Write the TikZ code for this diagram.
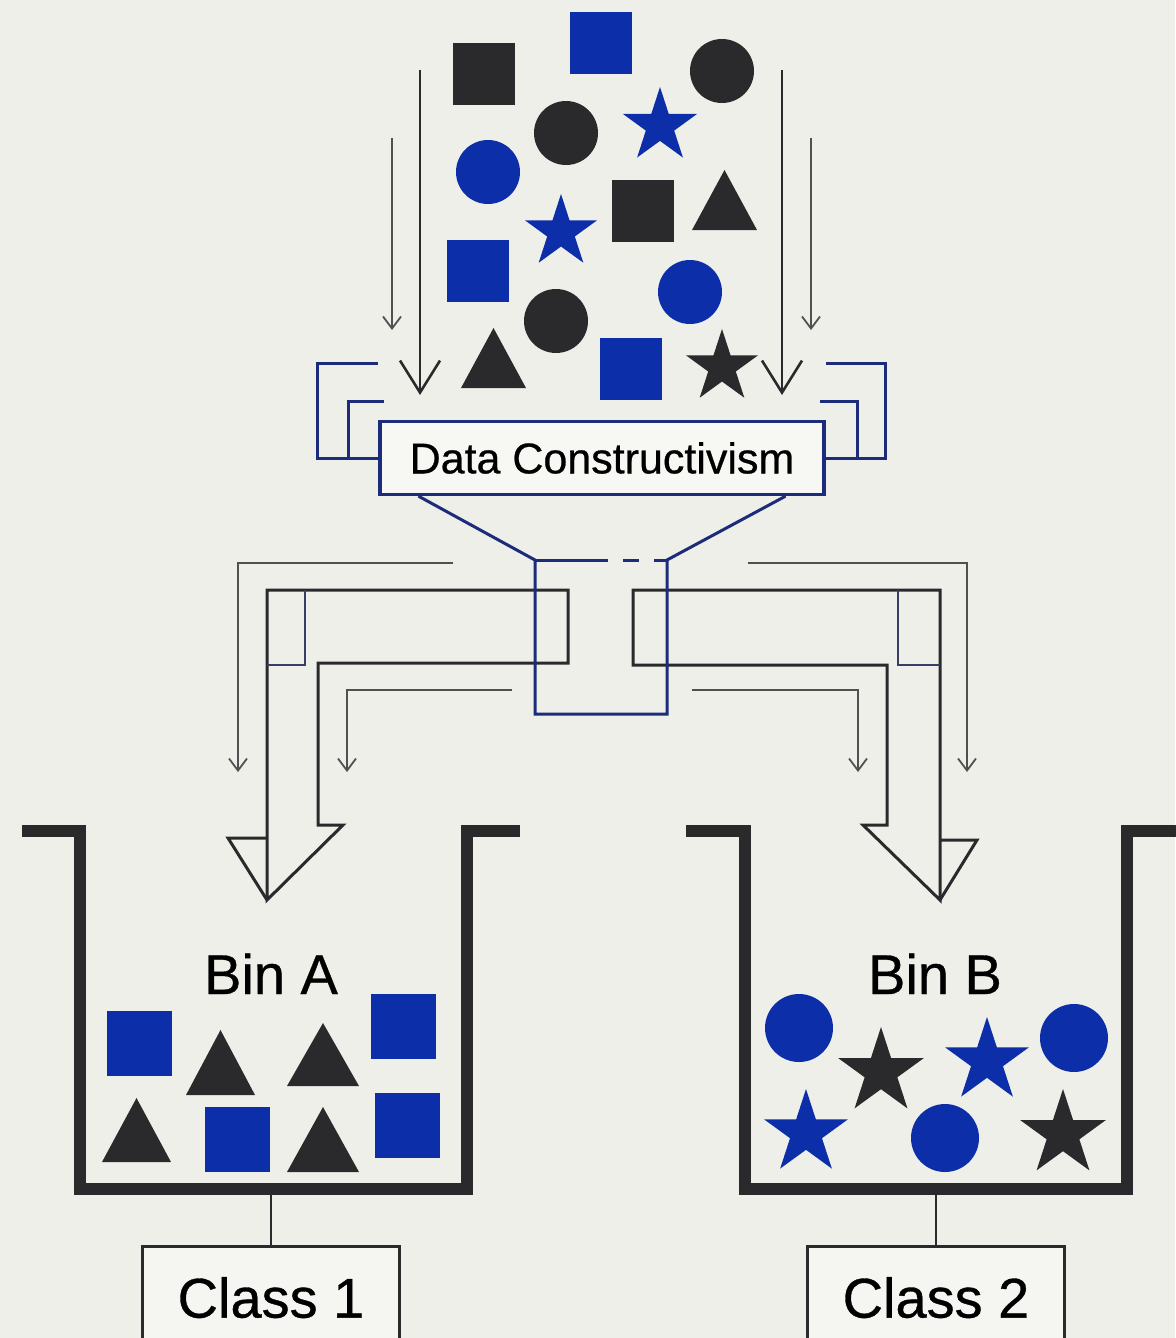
\documentclass[tikz,border=0pt]{standalone}
\usepackage{fontspec}
\setmainfont[FakeBold=0.6]{Liberation Sans}
\usepackage{tikz}
\usetikzlibrary{arrows.meta,shapes.geometric}
\definecolor{paper}{RGB}{239,239,234}
\definecolor{itemblue}{RGB}{12,46,168}
\definecolor{itemdark}{RGB}{42,42,44}
\definecolor{funnelnavy}{RGB}{28,44,122}
\definecolor{flowgray}{RGB}{80,80,80}

\begin{document}
\begin{tikzpicture}[x=1pt,y=-1pt,line join=miter,
  bluestar/.style={star,star points=5,star point ratio=2.618,inner sep=0pt,fill=itemblue},
  darkstar/.style={star,star points=5,star point ratio=2.618,inner sep=0pt,fill=itemdark},
  flow/.style={flowgray,line width=1.8pt,-{Straight Barb[length=12pt,width=18pt]}},
  pipe/.style={itemdark,line width=3pt},
  binwall/.style={itemdark,line width=12pt},
  binlabel/.style={anchor=base,font=\fontsize{56}{60}\selectfont},
  classbox/.style={draw=itemdark,line width=3.2pt,fill=paper!60!white,anchor=north,
    font=\fontsize{56}{60}\selectfont,minimum width=257pt,inner ysep=10pt,text height=61pt,text depth=45pt}]
  \useasboundingbox (0,0) rectangle (1175,1338);
  \fill[paper] (0,0) rectangle (1175,1338);
  % --- thin flow lines around the outlets ---
  \draw[flow] (453,563) -- (238,563) -- (238,772);
  \draw[flow] (512,690) -- (347,690) -- (347,772);
  \draw[flow] (748,563) -- (967,563) -- (967,772);
  \draw[flow] (692,690) -- (858,690) -- (858,772);
  % --- outlet pipes (drawn as hollow arrows) ---
  \draw[pipe] (267,900) -- (267,590) -- (568,590) -- (568,663) -- (318,663) -- (318,825) -- (343,825) -- cycle;
  \draw[pipe] (267,838) -- (228,838) -- (267,900);
  \draw[pipe] (940,900) -- (940,590) -- (633,590) -- (633,665) -- (887,665) -- (887,825) -- (863,825) -- cycle;
  \draw[pipe] (940,840) -- (977,840) -- (940,900);
  \draw[funnelnavy!50!flowgray,line width=1.6pt] (305,590) -- (305,665) -- (267,665);
  \draw[funnelnavy!50!flowgray,line width=1.6pt] (898,590) -- (898,665) -- (940,665);
  % --- funnel ---
  \node[draw=funnelnavy,line width=3.2pt,fill=paper!50!white,minimum width=444pt,minimum height=73pt,inner sep=0pt,
    font=\fontsize{43}{48}\selectfont] (dc) at (602,458) {Data Constructivism};
  \coordinate (neckL) at (535,560);
  \coordinate (neckR) at (667,560);
  \draw[funnelnavy,line width=3pt] ([xshift=40pt]dc.south west) -- (neckL) -- (535,714) -- (667,714) -- (neckR) -- ([xshift=-40pt]dc.south east);
  \draw[funnelnavy,line width=3pt] (neckL) -- (608,560) (623,560) -- (639,560) (654,560) -- (neckR);
  % rim brackets
  \draw[funnelnavy,line width=3pt] (378,363) -- (317,363) -- (317,458) -- (dc.west |- 0,458);
  \draw[funnelnavy,line width=3pt] (384,401) -- (348,401) -- (348,458);
  \draw[funnelnavy,line width=3pt] (826,363) -- (885,363) -- (885,458) -- (dc.east |- 0,458);
  \draw[funnelnavy,line width=3pt] (820,401) -- (857,401) -- (857,458);
  % --- falling items ---
  \foreach \x/\y in {453/43,612/180} \fill[itemdark] (\x,\y) rectangle ++(62,62);
  \foreach \x/\y in {570/12,447/240,600/338} \fill[itemblue] (\x,\y) rectangle ++(62,62);
  \foreach \x/\y in {722/71,566/133,556/321} \fill[itemdark] (\x,\y) circle[radius=32pt];
  \foreach \x/\y in {488/172,690/292} \fill[itemblue] (\x,\y) circle[radius=32pt];
  \foreach \x/\y/\r [count=\k] in {660/126/39,561/232/38} \node[bluestar,minimum size=2*\r pt] (topstar\k) at (\x,\y) {};
  \node[darkstar,minimum size=76pt] (topstar3) at (722,367) {};
  \foreach \xl/\xr/\yb/\yt in {692/757/230/170,461/526/388/328} \fill[itemdark] (\xl,\yb) -- (\xr,\yb) -- ({(\xl+\xr)/2},\yt) -- cycle;
  % feed arrows
  \draw[itemdark,line width=2.6pt,-{Straight Barb[length=32pt,width=40pt]}] (420,70) -- (420,395);
  \draw[itemdark,line width=2.6pt,-{Straight Barb[length=32pt,width=40pt]}] (782,70) -- (782,395);
  \draw[flow] (392,138) -- (392,330);
  \draw[flow] (811,138) -- (811,330);
  % --- bins ---
  \draw[binwall] (22,831) -- (80,831) -- (80,1189) -- (467,1189) -- (467,831) -- (520,831);
  \draw[binwall] (686,831) -- (745,831) -- (745,1189) -- (1127,1189) -- (1127,831) -- (1185,831);
  \node[binlabel] (binA) at (271,994) {Bin A};
  \node[binlabel] (binB) at (935,994) {Bin B};
  % bin A: squares and triangles
  \foreach \x/\y in {107/1011,371/994,205/1107,375/1093} \fill[itemblue] (\x,\y) rectangle ++(65,65);
  \foreach \xl/\xr/\yb/\yt in {186/255/1095/1030,287/359/1086/1023,102/171/1162/1098,287/359/1172/1107} \fill[itemdark] (\xl,\yb) -- (\xr,\yb) -- ({(\xl+\xr)/2},\yt) -- cycle;
  % bin B: circles and stars
  \foreach \x/\y in {799/1028,1074/1038,945/1138} \fill[itemblue] (\x,\y) circle[radius=34pt];
  \foreach \x/\y [count=\k] in {987/1061,806/1133} \node[bluestar,minimum size=88pt] (binstar\k) at (\x,\y) {};
  \foreach \x/\y [count=\k] in {881/1072,1063/1134} \node[darkstar,minimum size=90pt] (darkstar\k) at (\x,\y) {};
  % --- class labels ---
  \coordinate (floorA) at (271,1189);
  \coordinate (floorB) at (936,1189);
  \node[classbox] (cls1) at (271,1245) {Class 1};
  \node[classbox] (cls2) at (936,1245) {Class 2};
  \draw[itemdark,line width=2.6pt] (floorA) -- (cls1.north);
  \draw[itemdark,line width=2.6pt] (floorB) -- (cls2.north);
\end{tikzpicture}
\end{document}
